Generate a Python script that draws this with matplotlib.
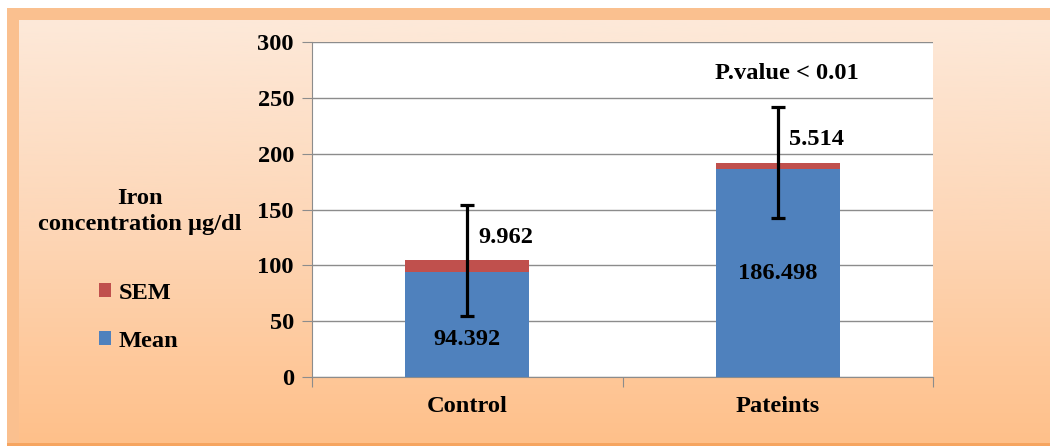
import numpy as np
import matplotlib
matplotlib.use('Agg')
import matplotlib.pyplot as plt
from matplotlib.patches import Rectangle
from matplotlib.colors import LinearSegmentedColormap

# data
groups = ['Control', 'Pateints']
mean_vals = [94.392, 186.498]
sem_vals = [9.962, 5.514]
err_vals = [50, 50]
p_text = 'P.value < 0.01'

plt.rcParams['font.family'] = ['Liberation Serif', 'DejaVu Serif']
plt.rcParams['font.weight'] = 'bold'
plt.rcParams['axes.labelweight'] = 'bold'
fs = 17.6

W, H = 1050, 446
fig = plt.figure(figsize=(W / 100, H / 100), dpi=100, facecolor='white')

# background frame + gradient panel (pixel coords)
bg = fig.add_axes([0, 0, 1, 1], zorder=-10)
bg.add_patch(Rectangle((7, 8), W - 7, H - 8, color='#FAC08F', lw=0, zorder=1))
grad_cmap = LinearSegmentedColormap.from_list('peach', ['#FDE9D9', '#FDD6B6', '#FFC08A'])
grad = np.linspace(0, 1, 256).reshape(-1, 1)
bg.imshow(grad, cmap=grad_cmap, aspect='auto', extent=(19, W, 443, 20),
          interpolation='bicubic', zorder=2)
bg.add_patch(Rectangle((7, 443), W - 7, 3, color='#F6A560', lw=0, zorder=3))
bg.set_xlim(0, W)
bg.set_ylim(H, 0)
bg.axis('off')

# chart
ax = fig.add_axes([312 / W, 1 - 377 / H, 621 / W, 335 / H])
ax.set_facecolor('white')
x = np.arange(len(groups))
tops = [m + s for m, s in zip(mean_vals, sem_vals)]
ax.bar(x, mean_vals, width=0.4, color='#4F81BD', label='Mean', zorder=3)
ax.bar(x, sem_vals, width=0.4, bottom=mean_vals, color='#C0504D', label='SEM', zorder=3)
ax.errorbar(x, tops, yerr=err_vals, fmt='none', ecolor='black', elinewidth=2.3,
            capsize=5, capthick=2.3, zorder=4)

ax.set_ylim(0, 300)
ax.set_xlim(-0.5, 1.5)
ax.set_yticks(range(0, 301, 50))
ax.grid(axis='y', color='#8C8C8C', lw=1, zorder=0)
ax.set_axisbelow(True)
for s in ['top', 'right']:
    ax.spines[s].set_visible(False)
for s in ['left', 'bottom']:
    ax.spines[s].set_color('#8C8C8C')
ax.tick_params(axis='y', length=7, color='#8C8C8C', pad=6, labelsize=fs)
ax.set_xticks([-0.5, 0.5, 1.5])
ax.set_xticklabels([])
ax.tick_params(axis='x', which='major', length=7, color='#8C8C8C')
ax.set_xticks(x, minor=True)
ax.set_xticklabels(groups, minor=True, fontsize=fs)
ax.tick_params(axis='x', which='minor', length=0, pad=14)

# value labels
mean_label_y = [34, 93]
for i in range(len(groups)):
    ax.text(x[i], mean_label_y[i], f'{mean_vals[i]:.3f}', ha='center', va='center', fontsize=fs, zorder=5)
    ax.text(x[i] + 0.125, tops[i] + 21, f'{sem_vals[i]:.3f}', ha='center', va='center', fontsize=fs, zorder=5)
ax.text(1.03, 272, p_text, ha='center', va='center', fontsize=fs)

ax.set_ylabel('Iron\nconcentration µg/dl', rotation=0, ha='center', va='center',
              fontsize=fs, fontweight='bold', linespacing=1.3)
ax.yaxis.set_label_coords(-0.277, 0.495)

h, l = ax.get_legend_handles_labels()
fig.legend(h[::-1], l[::-1], loc='upper left', bbox_to_anchor=(99 / W, 1 - 283 / H),
           frameon=False, fontsize=fs, handlelength=0.5, handleheight=0.5,
           handletextpad=0.3, labelspacing=1.1, borderpad=0, borderaxespad=0)

fig.savefig('out.png', dpi=100, facecolor='white')
